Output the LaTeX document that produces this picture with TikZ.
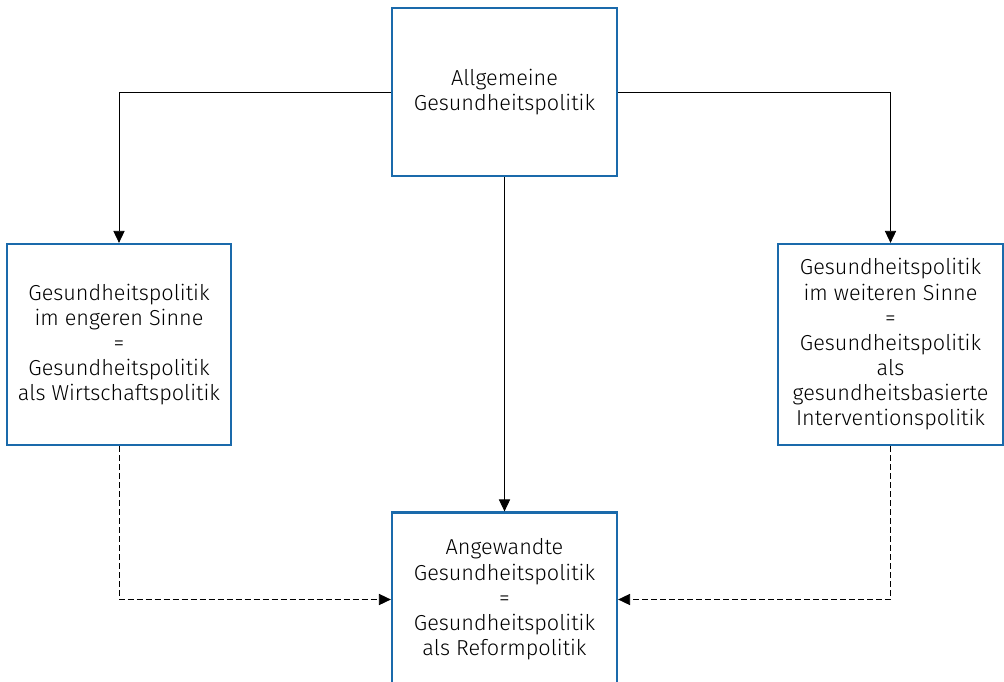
\documentclass[tikz,border=0pt]{standalone}
\usepackage{fontspec}
\setmainfont{Fira Sans Light}
\usetikzlibrary{arrows.meta}
\definecolor{boxblue}{HTML}{1A6AAB}
\tikzset{
  policybox/.style={draw=boxblue, line width=1.6pt, fill=white, align=center,
    inner sep=0pt, font=\fontsize{15.4}{17.9}\selectfont},
  link/.style={-{Triangle[length=8.5pt,width=8pt]}, line width=0.6pt},
  loose/.style={dash pattern=on 4.2pt off 2.2pt},
}
\begin{document}
\begin{tikzpicture}[x=0.025cm, y=-0.025cm]
    \useasboundingbox (0,0) rectangle (1004,682);

    % Draw nodes
    \node[policybox, minimum width=5.625cm, minimum height=4.2cm] (allg) at (504.5,92)
        {Allgemeine\\Gesundheitspolitik};
    \node[policybox, minimum width=5.6cm, minimum height=5.025cm] (eng) at (119,344.5)
        {Gesundheitspolitik\\im engeren Sinne\\=\\Gesundheitspolitik\\als Wirtschaftspolitik};
    \node[policybox, minimum width=5.625cm, minimum height=5.025cm] (weit) at (890.5,344.5)
        {Gesundheitspolitik\\im weiteren Sinne\\=\\Gesundheitspolitik\\als\\gesundheitsbasierte\\Interventionspolitik};
    \node[policybox, minimum width=5.625cm, minimum height=4.35cm] (ang) at (504.5,599.5)
        {Angewandte\\Gesundheitspolitik\\=\\Gesundheitspolitik\\als Reformpolitik};

    % Draw edges
    \draw[link] (allg.west) -| (eng.north);
    \draw[link] (allg.east) -| (weit.north);
    \draw[link] (allg.south) -- (ang.north);
    \draw[link, loose] (eng.south) |- (ang.west);
    \draw[link, loose] (weit.south) |- (ang.east);
\end{tikzpicture}
\end{document}
